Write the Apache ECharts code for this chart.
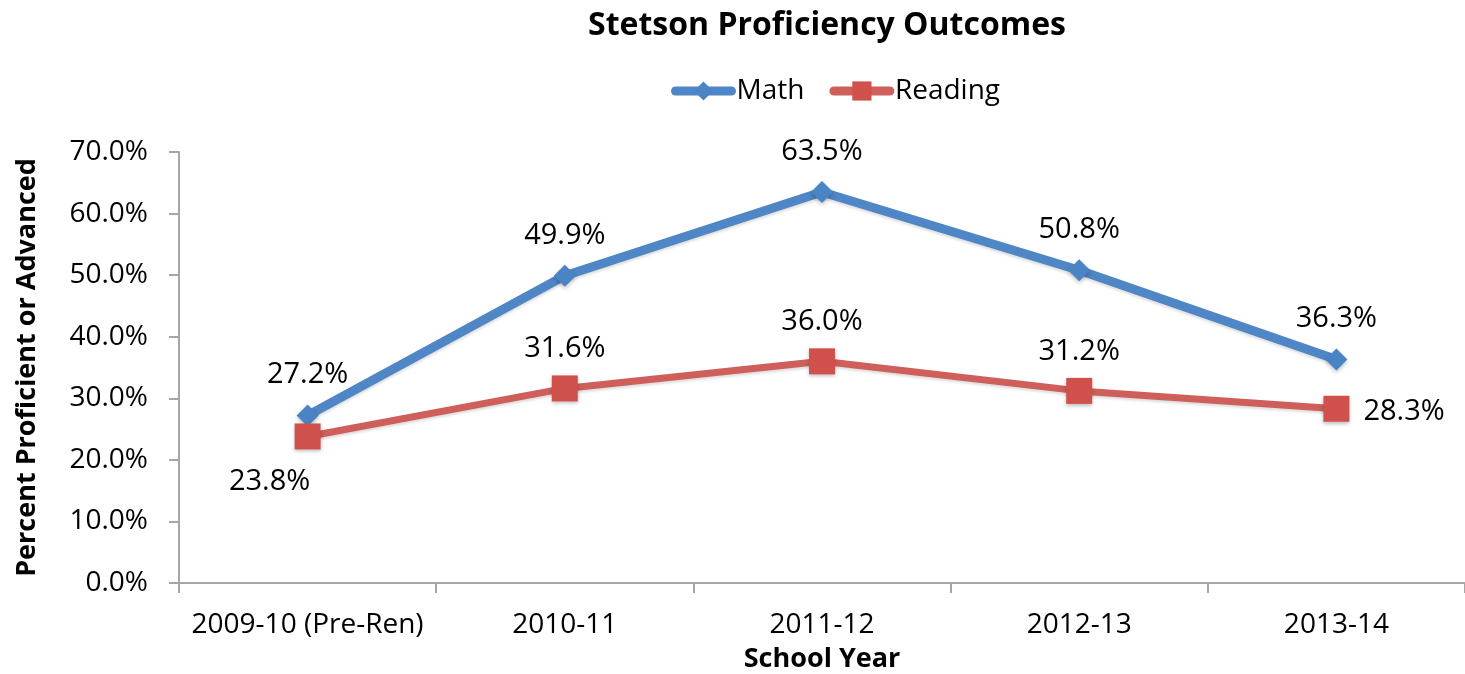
<!DOCTYPE html>
<html>
<head>
<meta charset="utf-8">
<script src="https://cdn.jsdelivr.net/npm/echarts@6/dist/echarts.min.js"></script>
<style>
  html, body { margin: 0; padding: 0; background: #fff; }
  #main { width: 1465px; height: 674px; }
</style>
</head>
<body>
<div id="main"></div>
<script>
var years = ['2009-10 (Pre-Ren)', '2010-11', '2011-12', '2012-13', '2013-14'];
var math = [27.2, 49.9, 63.5, 50.8, 36.3];
var reading = [23.8, 31.6, 36.0, 31.2, 28.3];

var font = '"Open Sans", "Liberation Sans", sans-serif';
var chart = echarts.init(document.getElementById('main'));

// reading labels: first goes below-left, last to the right, the rest on top
var readingData = reading.map(function (v, i) {
  var item = { value: v };
  if (i === 0) {
    item.label = { position: 'bottom', distance: 18, offset: [-38, 0] };
  } else if (i === reading.length - 1) {
    item.label = { position: 'right', distance: 14, offset: [0, 3] };
  }
  return item;
});

function pct(p) { return p.value.toFixed(1) + '%'; }

var option = {
  animation: false,
  textStyle: { fontFamily: font },
  title: {
    text: 'Stetson Proficiency Outcomes',
    left: 822,
    textAlign: 'center',
    top: 5,
    textStyle: { fontSize: 32, fontWeight: 'bold', color: '#000', fontFamily: font }
  },
  legend: {
    top: 72,
    left: 666,
    itemWidth: 56,
    itemHeight: 24,
    itemGap: 25,
    textStyle: { fontSize: 28, color: '#000', fontFamily: font },
    data: [
      { name: 'Math', lineStyle: { width: 9, cap: 'round' } },
      { name: 'Reading', lineStyle: { width: 9, cap: 'round' } }
    ]
  },
  grid: { left: 179, right: 0, top: 152, bottom: 91, outerBoundsMode: 'none' },
  xAxis: {
    type: 'category',
    data: years,
    name: 'School Year',
    nameLocation: 'middle',
    nameGap: 63,
    nameTextStyle: { fontSize: 27, fontWeight: 'bold', color: '#000' },
    axisLine: { lineStyle: { color: '#a6a6a6', width: 2 } },
    axisTick: { show: true, length: 10, lineStyle: { color: '#a6a6a6', width: 2 } },
    axisLabel: { fontSize: 28, color: '#000', margin: 28, interval: 0 }
  },
  yAxis: {
    type: 'value',
    min: 0,
    max: 70,
    interval: 10,
    name: 'Percent Proficient or Advanced',
    nameLocation: 'middle',
    nameGap: 138,
    nameTextStyle: { fontSize: 27, fontWeight: 'bold', color: '#000' },
    axisLine: { show: true, lineStyle: { color: '#a6a6a6', width: 2 } },
    axisTick: { show: true, length: 10, lineStyle: { color: '#a6a6a6', width: 2 } },
    splitLine: { show: false },
    axisLabel: {
      fontSize: 28, color: '#000', margin: 31,
      formatter: function (v) { return v.toFixed(1) + '%'; }
    }
  },
  series: [
    {
      name: 'Math',
      type: 'line',
      data: math,
      symbol: 'diamond',
      symbolSize: 22,
      lineStyle: { color: '#4f86c6', width: 9, shadowColor: 'rgba(0,0,0,0.15)', shadowBlur: 3, shadowOffsetY: 2 },
      itemStyle: { color: '#4a84c5', shadowColor: 'rgba(0,0,0,0.25)', shadowBlur: 4, shadowOffsetY: 2 },
      label: { show: true, position: 'top', distance: 15, fontSize: 29, color: '#000', formatter: pct },
      z: 3
    },
    {
      name: 'Reading',
      type: 'line',
      data: readingData,
      symbol: 'rect',
      symbolSize: 26,
      lineStyle: { color: '#cf5f5b', width: 7, shadowColor: 'rgba(0,0,0,0.15)', shadowBlur: 3, shadowOffsetY: 2 },
      itemStyle: { color: '#d0504b', shadowColor: 'rgba(0,0,0,0.25)', shadowBlur: 4, shadowOffsetY: 2 },
      label: { show: true, position: 'top', distance: 12, fontSize: 29, color: '#000', formatter: pct },
      z: 4
    }
  ]
};
chart.setOption(option);
</script>
</body>
</html>
